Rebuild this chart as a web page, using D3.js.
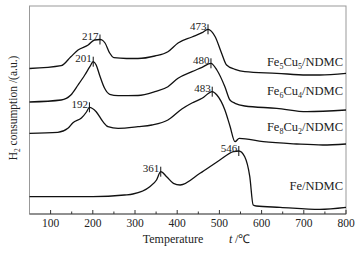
<!DOCTYPE html>
<html>
<head>
<meta charset="utf-8">
<script src="https://cdn.jsdelivr.net/npm/d3@7"></script>
<style>
body { margin: 0; background: #fff; }
text { font-family: "Liberation Serif", "Times New Roman", serif; fill: #222; }
</style>
</head>
<body>
<svg id="chart" width="361" height="253"></svg>
<script>
// data: [temperature, H2 consumption (a.u.)]
var fe5cu5 = [[50,145.5],[125,148.3],[148,157.3],[165,164],[189,169],[204,174],[217,174.5],[222,174],[229,171],[240,161],
              [250,156.3],[280,155.5],[307,155.5],[347,158],[378,162.3],[402,171],[435,177],[459,181.3],[473,184.7],
              [490,177.3],[505,161],[517,149],[537,144.7],[560,142.3],[636,140.7],[707,139],[738,139],[800,140.7]];
var fe6cu4 = [[50,112],[125,114],[148,119],[165,129],[181,139],[193,147.3],[201,152.3],[208,149],[216,139],[228,125.7],
              [240,119.7],[260,118.3],[307,118.5],[347,122.3],[378,127.3],[402,135.7],[435,142.3],[459,146.7],[480,150.7],
              [494,144],[513,127.3],[525,114],[537,110.7],[560,108],[636,105.7],[707,102.3],[800,104]];
var fe8cu2 = [[50,80.7],[117,81.7],[141,85.7],[153,91.3],[173,96],[185,102],[192,106.7],[208,102.3],[224,92.3],[236,87.3],
              [260,85.7],[307,87.3],[340,89],[378,94],[411,105],[435,111],[459,115.7],[483,122.3],[494,119],[513,104],
              [525,88],[537,72.3],[547,75.7],[604,72.3],[683,70],[745,69],[800,70]];
var feOnly = [[50,17.3],[200,17.3],[275,19],[295,20],[335,27.3],[351,34],[361,42.3],[375,37.3],[391,30.7],[407,29],
              [454,40.7],[501,54],[533,62.3],[546,63],[560,57.3],[572,37.3],[580,9],[587,8],[644,6.7],[738,4.7],[800,6.7]];

var seriesNames = ["Fe_5Cu_5/NDMC", "Fe_6Cu_4/NDMC", "Fe_8Cu_2/NDMC", "Fe/NDMC"];
var seriesData = [fe5cu5, fe6cu4, fe8cu2, feOnly];
var labelLevels = [148, 119, 83, 24];   // y (a.u.) of the name labels
var peaks = [[217, 473], [201, 480], [192, 483], [361, 546]];

var xTicks = [100, 200, 300, 400, 500, 600, 700, 800];
var xMinor = [150, 250, 350, 450, 550, 650, 750];

var svg = d3.select("#chart");
var pLeft = 29.5, pRight = 346, pTop = 6, pBottom = 214;

var x = d3.scaleLinear().domain([50, 800]).range([pLeft, pRight]);
var y = d3.scaleLinear().domain([0, 208]).range([pBottom, pTop]);

// frame
svg.append("rect")
   .attr("x", pLeft).attr("y", pTop)
   .attr("width", pRight - pLeft).attr("height", pBottom - pTop)
   .attr("fill", "none").attr("stroke", "#999").attr("stroke-width", 1);

// bottom axis, ticks pointing inward
var axis = svg.append("g").attr("transform", "translate(0," + pBottom + ")");
axis.append("line").attr("x1", pLeft).attr("x2", pRight).attr("stroke", "#555");
axis.selectAll(".major").data(xTicks).enter().append("line")
    .attr("x1", d => x(d)).attr("x2", d => x(d)).attr("y1", 0).attr("y2", -4)
    .attr("stroke", "#333");
axis.selectAll(".minor").data(xMinor).enter().append("line")
    .attr("x1", d => x(d)).attr("x2", d => x(d)).attr("y1", 0).attr("y2", -2.5)
    .attr("stroke", "#333");
axis.selectAll(".lab").data(xTicks).enter().append("text")
    .attr("x", d => x(d)).attr("y", 13)
    .attr("text-anchor", "middle").style("font-size", "11.5px")
    .text(d => d);

// axis titles
svg.append("text").attr("x", 173).attr("y", 243).attr("text-anchor", "middle")
   .style("font-size", "12px").text("Temperature");
var tl = svg.append("text").attr("x", 229).attr("y", 243).style("font-size", "12px");
tl.append("tspan").style("font-style", "italic").text("t");
tl.append("tspan").attr("x", 235).text("/\u2103");

var yl = svg.append("text")
   .attr("transform", "translate(17,108) rotate(-90)")
   .attr("text-anchor", "middle").style("font-size", "11.5px");
yl.append("tspan").text("H");
yl.append("tspan").attr("dy", 2.5).style("font-size", "7.5px").text("2");
yl.append("tspan").attr("dy", -2.5).text(" consumption /(a.u.)");

// curves
var line = d3.line().x(d => x(d[0])).y(d => y(d[1])).curve(d3.curveMonotoneX);
svg.selectAll(".curve").data(seriesData).enter().append("path")
   .attr("class", "curve")
   .attr("d", line)
   .attr("fill", "none").attr("stroke", "#111").attr("stroke-width", 1.3);

// peak markers + labels
peaks.forEach(function(pk, i) {
    pk.forEach(function(t) {
        var pt = seriesData[i].find(d => d[0] === t);
        var px = x(t), py = y(pt[1]);
        svg.append("line").attr("x1", px).attr("x2", px)
           .attr("y1", py - 5).attr("y2", py + 5)
           .attr("stroke", "#111").attr("stroke-width", 1);
        svg.append("text").attr("x", px - 1.5).attr("y", py + 0.5)
           .attr("text-anchor", "end").style("font-size", "11px").text(t);
    });
});

// series names with subscripts
seriesNames.forEach(function(name, i) {
    var t = svg.append("text").attr("x", 343).attr("y", y(labelLevels[i]))
        .attr("text-anchor", "end").style("font-size", "12.5px");
    var shifted = false;
    name.split(/(_\d)/).forEach(function(part) {
        if (!part) return;
        if (part[0] === "_") {
            t.append("tspan").attr("dy", 2.5).style("font-size", "8px").text(part.slice(1));
            shifted = true;
        } else {
            t.append("tspan").attr("dy", shifted ? -2.5 : 0).text(part);
            shifted = false;
        }
    });
});
</script>
</body>
</html>
